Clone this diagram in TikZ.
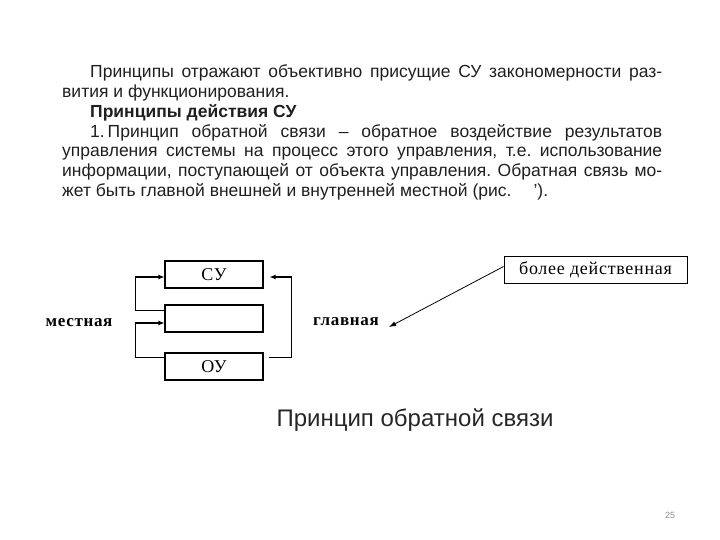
\documentclass[tikz,border=0pt]{standalone}
\usepackage{fontspec}
\setmainfont{Liberation Sans}
\newfontfamily\figfont[LetterSpace=4]{Liberation Serif}
\frenchspacing
\usepackage{tikz}
\usetikzlibrary{arrows.meta,positioning,calc}

\begin{document}
\begin{tikzpicture}[x=1pt,y=-1pt,
  txt/.style={anchor=base west,inner sep=0pt,font=\fontsize{17.5}{20}\selectfont,text=black!88},
  blk/.style={draw,line width=1.1pt,minimum width=98pt,minimum height=27pt,inner sep=0pt,font=\figfont\fontsize{18}{20}\selectfont},
  lbl/.style={inner sep=0pt,font=\figfont\bfseries\fontsize{17}{19}\selectfont},
  fb/.style={line width=1.1pt,-{Latex[length=6pt,width=5pt]}}]
\useasboundingbox (0,0) rectangle (720,540);
% text above the figure
\node[txt] (l1) at (90,78) {\makebox[572pt][s]{Принципы отражают объективно присущие СУ закономерности раз-}};
\node[txt] (l2) at (62,97.7) {вития и функционирования.};
\node[txt,font=\bfseries\fontsize{17.5}{20}\selectfont] (l3) at (90,117.4) {Принципы действия СУ};
\node[txt] (l4) at (90,137.1) {\makebox[572pt][s]{1.\,Принцип обратной связи -- обратное воздействие результатов}};
\node[txt] (l5) at (62,156.8) {\makebox[600pt][s]{управления системы на процесс этого управления, т.е. использование}};
\node[txt] (l6) at (62,176.5) {\makebox[600pt][s]{информации, поступающей от объекта управления. Обратная связь мо-}};
\node[txt] (l7) at (62,196.2) {жет быть главной внешней и внутренней местной (рис.\hspace{22pt}’).};
% blocks
\node[blk] (su) at (214,274.5) {СУ};
\node[blk] (mid) at (214,318.5) {};
\node[blk] (ou) at (214,366.5) {ОУ};
\node[draw,line width=0.9pt,minimum width=183pt,minimum height=27pt,inner sep=0pt,font=\figfont\fontsize{18}{20}\selectfont] (eff) at (595.5,269.5) {более действенная};
\node[lbl] (loc) at (79,323) {местная};
\node[lbl] (main) at (346,322) {главная};
% feedback loops
\draw[fb] ([yshift=-6pt]mid.north west) -- ++(-29,0) |- ([yshift=-2.5pt]su.west);
\draw[fb] ([yshift=-5pt]ou.north west) -- ++(-29,0) |- ([yshift=-4.5pt]mid.west);
\draw[fb] ([xshift=5pt,yshift=-5pt]ou.north east) -| ([xshift=28pt,yshift=-2.5pt]su.east) -- ([xshift=6pt,yshift=-2.5pt]su.east);
\draw[line width=0.8pt,-{Latex[length=7pt,width=5pt]}] ([yshift=3pt]eff.west) -- ([xshift=10pt,yshift=-5pt]main.east);
% caption and page number
\node[inner sep=0pt,font=\fontsize{24}{28}\selectfont,text=black!85] (cap) at (415,420) {Принцип обратной связи};
\node[inner sep=0pt,font=\fontsize{9}{11}\selectfont,text=black!45] (pg) at (670,515) {25};
\end{tikzpicture}
\end{document}
